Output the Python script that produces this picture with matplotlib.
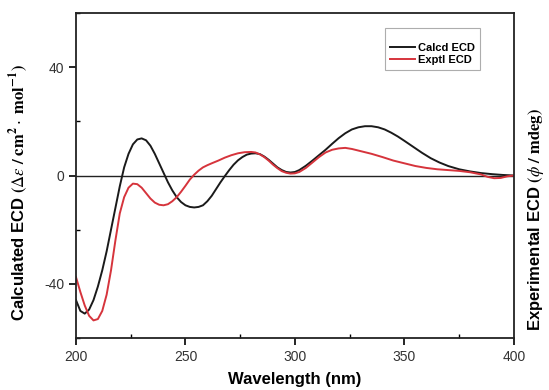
import matplotlib.pyplot as plt
from matplotlib.ticker import MultipleLocator

plt.rcParams['font.family'] = ['Liberation Sans', 'DejaVu Sans']
plt.rcParams['mathtext.fontset'] = 'stix'
plt.rcParams['axes.unicode_minus'] = False

# calculated ECD (black)
wl_calcd = [200, 202, 204, 206, 208, 210, 212, 214, 216, 218, 220, 222, 224, 226, 228,
            230, 232, 234, 236, 238, 240, 242, 244, 246, 248, 250, 252, 254, 256, 258,
            260, 262, 264, 266, 268, 270, 272, 274, 276, 278, 280, 282, 284, 286, 288,
            290, 292, 294, 296, 298, 300, 302, 305, 308, 311, 314, 317, 320, 323, 326,
            329, 332, 335, 338, 341, 344, 347, 350, 354, 358, 362, 366, 370, 375, 380,
            385, 390, 395, 400]
ecd_calcd = [-46, -50, -51, -49.5, -46, -41, -35, -28, -20, -12, -4, 3, 8, 11.5, 13.3,
             13.7, 13, 11, 8, 4.5, 1, -2.5, -5.5, -8, -9.8, -11, -11.6, -11.8, -11.6, -11,
             -9.5, -7.5, -5, -2.5, -0.2, 2, 4, 5.6, 6.8, 7.7, 8.1, 8.2, 7.9, 7, 5.8,
             4.4, 3, 2, 1.3, 1.1, 1.3, 2, 3.6, 5.5, 7.5, 9.5, 11.7, 13.8, 15.6, 17,
             17.8, 18.2, 18.2, 17.8, 17, 15.8, 14.4, 12.8, 10.6, 8.4, 6.4, 4.8, 3.5, 2.3, 1.5,
             0.9, 0.5, 0.2, 0]

# experimental ECD (red)
wl_exptl = [200, 202, 204, 206, 208, 210, 212, 214, 216, 218, 220, 222, 224, 226, 228,
            230, 232, 234, 236, 238, 240, 242, 244, 246, 248, 250, 252, 254, 256, 258,
            260, 262, 265, 268, 271, 274, 277, 280, 282, 284, 286, 288, 290, 292, 294,
            296, 298, 300, 302, 305, 308, 311, 314, 317, 320, 323, 326, 330, 335, 340,
            345, 350, 355, 360, 365, 370, 375, 380, 385, 388, 391, 394, 397, 400]
ecd_exptl = [-37.5, -43, -48, -51.8, -53.5, -53, -50, -44, -35, -24, -14, -8, -4.5, -3, -3.2,
             -4.5, -6.5, -8.5, -10, -10.8, -11, -10.6, -9.5, -8, -6, -3.8, -1.5, 0.3, 1.8, 3,
             3.8, 4.5, 5.5, 6.6, 7.5, 8.2, 8.6, 8.7, 8.5, 7.8, 6.8, 5.5, 4, 2.7, 1.6,
             1, 0.7, 0.8, 1.3, 2.8, 4.8, 6.8, 8.5, 9.5, 10, 10.2, 9.8, 9, 8, 6.8,
             5.5, 4.5, 3.5, 2.8, 2.3, 2, 1.7, 1.2, 0.4, -0.5, -1, -0.9, -0.3, 0]

fig = plt.figure(figsize=(5.49, 3.9), dpi=100)
ax = fig.add_axes([0.1384, 0.1333, 0.7976, 0.8334])

ax.axhline(0, color='#222222', lw=1.0, zorder=1)
ax.plot(wl_calcd, ecd_calcd, color='#1a1a1a', lw=1.4, label='Calcd ECD')
ax.plot(wl_exptl, ecd_exptl, color='#d6343c', lw=1.4, label='Exptl ECD')

ax.set_xlim(200, 400)
ax.set_ylim(-60, 60)
ax.xaxis.set_major_locator(MultipleLocator(50))
ax.xaxis.set_minor_locator(MultipleLocator(25))
ax.yaxis.set_minor_locator(MultipleLocator(20))
ax.set_yticks([-40, 0, 40])
ax.tick_params(which='major', direction='out', length=5, width=1.2, labelsize=10,
               labelcolor='#333333')
ax.tick_params(which='minor', direction='in', length=3, width=1)
for s in ax.spines.values():
    s.set_linewidth(1.3)
    s.set_color('#222222')

fig.text(0.537, 0.026, 'Wavelength (nm)', fontsize=12, fontweight='bold',
         ha='center', va='center')
fig.text(0.036, 0.505,
         r'Calculated ECD $\mathbf{(}\mathit{\Delta\varepsilon}\mathbf{\ /\ cm^{2}}\cdot\mathbf{\ mol^{-1})}$',
         rotation=90, fontsize=12, fontweight='bold', ha='center', va='center')
fig.text(0.976, 0.436, r'Experimental ECD $\mathbf{(}\mathit{\phi}\mathbf{\ /\ mdeg)}$',
         rotation=90, fontsize=12, fontweight='bold', ha='center', va='center')

leg = ax.legend(loc='upper right', bbox_to_anchor=(0.935, 0.97),
                prop={'weight': 'bold', 'size': 8}, frameon=True, fancybox=False,
                title=' ', title_fontsize=6, handlelength=2.3, borderpad=0.4,
                labelspacing=0.25, handletextpad=0.3)
leg.get_frame().set_edgecolor('#999999')
leg.get_frame().set_linewidth(0.8)

fig.savefig('out.png', dpi=100)
